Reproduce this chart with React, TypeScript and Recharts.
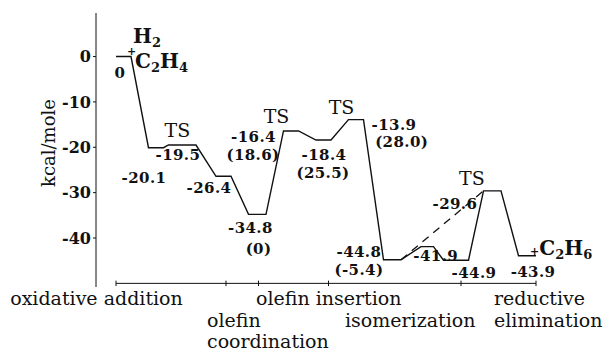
import { ComposedChart, Line, XAxis, YAxis, ReferenceLine, ReferenceDot } from "recharts";

// energy levels along the reaction coordinate (kcal/mole)
const levelEnergy = [0, -20.1, -19.5, -26.4, -34.8, -16.4, -18.4, -13.9, -44.8, -41.9, -44.9, -29.6, -43.9];
const levelStart = [4, 10.5, 14.5, 24, 30.5, 37.5, 44, 50.5, 57.5, 65, 69.5, 77.5, 84.5];
const levelEnd = [7, 13.5, 20, 27, 34, 40.5, 47, 53.5, 61, 67.5, 74.5, 81, 88];

// dashed shortcut: from level 8 to the TS at level 11
const shortcutFrom = 8;
const shortcutTo = 11;

const stageBounds = [4, 26, 32.5, 46.5, 73, 88];
const stageAxisEnergy = -50;
const stageNames = [["oxidative addition"], ["olefin", "coordination"], ["olefin insertion"], ["isomerization"], ["reductive", "elimination"]];
const stageLabelAt = [0.1, 22.2, 32, 49.8, 79.6];

const energyTicks = [-40, -30, -20, -10, 0];

// [level index, text, kind]
const levelNotes: [number, string, string][] = [
  [0, "0", "num"],
  [0, "H2", "formula"],
  [0, "+", "formula"],
  [0, "C2H4", "formula"],
  [1, "-20.1", "num"],
  [2, "TS", "ts"],
  [2, "-19.5", "num"],
  [3, "-26.4", "num"],
  [4, "-34.8", "num"],
  [4, "(0)", "num"],
  [5, "TS", "ts"],
  [5, "-16.4", "num"],
  [5, "(18.6)", "num"],
  [6, "-18.4", "num"],
  [6, "(25.5)", "num"],
  [7, "TS", "ts"],
  [7, "-13.9", "num"],
  [7, "(28.0)", "num"],
  [8, "-44.8", "num"],
  [8, "(-5.4)", "num"],
  [9, "-41.9", "num"],
  [10, "-44.9", "num"],
  [11, "TS", "ts"],
  [11, "-29.6", "num"],
  [12, "-43.9", "num"],
  [12, "+C2H6", "formula"],
];

// pixel offsets of each note from the middle of its level
const noteLayout: [number, number, string][] = [
  [-3.5, 21.5, "middle"],
  [9.5, -13.5, "start"],
  [3.5, -2, "start"],
  [11.5, 11.5, "start"],
  [-12, 35.3, "middle"],
  [-4.8, -8, "middle"],
  [-4.3, 15, "middle"],
  [-14.5, 16.7, "middle"],
  [-6.8, 18.6, "middle"],
  [1.3, 40, "middle"],
  [-14.5, -7.9, "middle"],
  [-37.5, 11, "middle"],
  [-38, 29, "middle"],
  [0.5, 20, "middle"],
  [-0.5, 38, "middle"],
  [-14.5, -5.6, "middle"],
  [38, 10.5, "middle"],
  [45.7, 27.5, "middle"],
  [-33.3, -2.5, "middle"],
  [-33.3, 15.5, "middle"],
  [8.5, 14.8, "middle"],
  [18, 17.5, "middle"],
  [-20.3, -5.8, "middle"],
  [-37.3, 18.2, "middle"],
  [5.8, 21.4, "middle"],
  [2.8, -0.6, "start"],
];

const stageLayout: [string, number][] = [
  ["middle", 0],
  ["start", 1],
  ["start", 0],
  ["start", 1],
  ["start", 0],
];

const serif = "'DejaVu Serif', serif";
const ink = "#111";

const profile = levelEnergy.flatMap((e, i) => [
  { rc: levelStart[i], energy: e },
  { rc: levelEnd[i], energy: e },
]);

const shortcut = [
  { rc: levelEnd[shortcutFrom], energy: levelEnergy[shortcutFrom] },
  { rc: levelStart[shortcutTo], energy: levelEnergy[shortcutTo] },
];

const formulaParts = (s: string) => {
  let sub = false;
  return s.split("").map((ch, k) => {
    const digit = /\d/.test(ch);
    let shift = 0;
    if (digit && !sub) { shift = 4; sub = true; }
    else if (!digit && sub) { shift = -4; sub = false; }
    const size = digit ? 13 : ch === "+" ? 11 : 20;
    return (
      <tspan key={k} dy={shift} fontSize={size}>{ch}</tspan>
    );
  });
};

const NoteLabel = (props: any) => {
  const { viewBox, idx } = props;
  if (!viewBox) return null;
  const [, text, kind] = levelNotes[idx];
  const [dx, dy, anchor] = noteLayout[idx];
  const x = viewBox.x + (viewBox.width || 0) / 2 + dx;
  const y = viewBox.y + (viewBox.height || 0) / 2 + dy;
  if (kind === "ts") {
    return (
      <text x={x} y={y} textAnchor={anchor} fontFamily={serif} fontSize={19} fill={ink}>{text}</text>
    );
  }
  if (kind === "formula") {
    return (
      <text x={x} y={y} textAnchor={anchor} fontFamily={serif} fontWeight="bold" fill={ink}>{formulaParts(text)}</text>
    );
  }
  return (
    <text x={x} y={y} textAnchor={anchor} fontFamily={serif} fontWeight="bold" fontSize={15} letterSpacing={0.4} fill={ink}>{text}</text>
  );
};

const StageTick = (props: any) => {
  const { x, y, payload } = props;
  const i = stageLabelAt.indexOf(payload.value);
  if (i < 0) return null;
  const [anchor, row] = stageLayout[i];
  return (
    <g>
      {stageNames[i].map((t, k) => (
        <text key={k} x={x} y={y + 18 + 21.5 * (row + k)} textAnchor={anchor} fontFamily={serif} fontSize={19} fill={ink}>
          {t}
        </text>
      ))}
    </g>
  );
};

const AxisTitle = (props: any) => {
  const vb = props.viewBox || { x: 0, y: 13, width: 96, height: 274 };
  const cx = vb.x + vb.width / 2;
  const cy = vb.y + vb.height / 2 - 7;
  return (
    <text x={cx} y={cy} transform={`rotate(-90, ${cx}, ${cy})`} textAnchor="middle" dominantBaseline="central" fontFamily={serif} fontSize={18} fill={ink}>
      kcal/mole
    </text>
  );
};

export default function App() {
  return (
    <div style={{ position: "absolute", left: 0, top: 0, background: "#fff" }}>
      <ComposedChart width={606} height={352} data={profile} margin={{ top: 13, right: 60, bottom: 0, left: 0 }}>
        <XAxis
          type="number"
          dataKey="rc"
          domain={[0, 90]}
          ticks={stageLabelAt}
          interval={0}
          axisLine={false}
          tickLine={false}
          tickSize={0}
          tickMargin={0}
          height={65}
          tick={<StageTick />}
        />
        <YAxis
          type="number"
          domain={[-50.8, 9.6]}
          ticks={energyTicks}
          interval={0}
          width={96}
          stroke={ink}
          tickSize={3}
          tickMargin={2}
          tick={{ fill: ink, fontSize: 16, fontWeight: "bold", fontFamily: serif }}
          label={{ content: <AxisTitle /> }}
        />
        <ReferenceLine
          segment={[
            { x: stageBounds[0], y: stageAxisEnergy },
            { x: stageBounds[stageBounds.length - 1], y: stageAxisEnergy },
          ]}
          stroke={ink}
        />
        {stageBounds.map((b) => (
          <ReferenceLine
            key={b}
            segment={[
              { x: b, y: stageAxisEnergy + 0.6 },
              { x: b, y: stageAxisEnergy - 0.6 },
            ]}
            stroke={ink}
          />
        ))}
        <Line
          type="linear"
          dataKey="energy"
          stroke={ink}
          strokeWidth={1.4}
          dot={false}
          isAnimationActive={false}
        />
        <Line
          type="linear"
          data={shortcut}
          dataKey="energy"
          stroke={ink}
          strokeWidth={1.3}
          strokeDasharray="8 6"
          dot={false}
          isAnimationActive={false}
        />
        {levelNotes.map(([lv], i) => (
          <ReferenceDot
            key={i}
            x={(levelStart[lv] + levelEnd[lv]) / 2}
            y={levelEnergy[lv]}
            r={0}
            fill="none"
            stroke="none"
            label={(p: any) => <NoteLabel {...p} idx={i} />}
          />
        ))}
      </ComposedChart>
    </div>
  );
}
